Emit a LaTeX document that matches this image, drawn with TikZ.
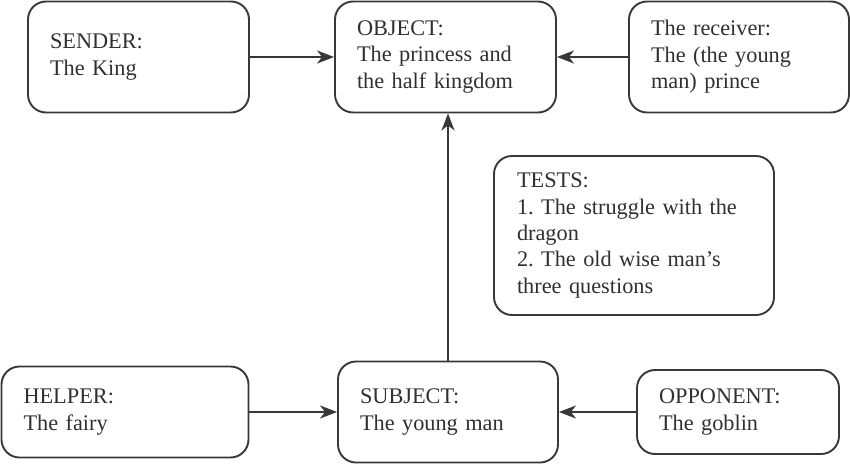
\documentclass[tikz,border=0pt]{standalone}
\usepackage{fontspec}
\setmainfont{Liberation Serif}
\usetikzlibrary{arrows.meta}
\definecolor{ink}{HTML}{303030}
\definecolor{edge}{HTML}{383838}
\tikzset{
  box/.style={draw=edge, line width=1.9pt, rounded corners=18pt, align=left,
    inner xsep=22pt, inner ysep=0pt, text=ink,
    font=\fontsize{22.3}{26.4}\selectfont\frenchspacing},
  conn/.style={draw=edge, line width=2pt,
    -{Stealth[length=17pt, width=13pt, inset=5pt]}}
}
\begin{document}
\begin{tikzpicture}[x=1pt, y=-1pt]
\useasboundingbox (0,0) rectangle (850,463);
\node[box, minimum width=221pt, minimum height=111pt, text width=177pt] (sender) at (138.5,57) {SENDER:\\The King};
\node[box, minimum width=221pt, minimum height=111pt, text width=177pt] (object) at (445.5,57) {OBJECT:\\The princess and\\the half kingdom};
\node[box, minimum width=220pt, minimum height=111pt, text width=176pt] (receiver) at (739,57) {The receiver:\\The (the young\\man) prince};
\node[box, minimum width=280pt, minimum height=159pt, text width=234pt, inner xsep=23pt] (tests) at (634,235.5) {TESTS:\\1. The struggle with the\\dragon\\2. The old wise man’s\\three questions};
\node[box, minimum width=247pt, minimum height=91pt, text width=203pt] (helper) at (125,412) {HELPER:\\The fairy};
\node[box, minimum width=220pt, minimum height=101pt, text width=176pt] (subject) at (448,412) {SUBJECT:\\The young man};
\node[box, minimum width=202pt, minimum height=84pt, text width=158pt] (opponent) at (738,412) {OPPONENT:\\The goblin};
\draw[conn] (sender.east) -- (object.west);
\draw[conn] (receiver.west) -- (object.east);
\draw[conn] (helper.east) -- (subject.west);
\draw[conn] (opponent.west) -- (subject.east);
\draw[conn] (subject.north) -- (subject.north |- object.south);
\end{tikzpicture}
\end{document}
